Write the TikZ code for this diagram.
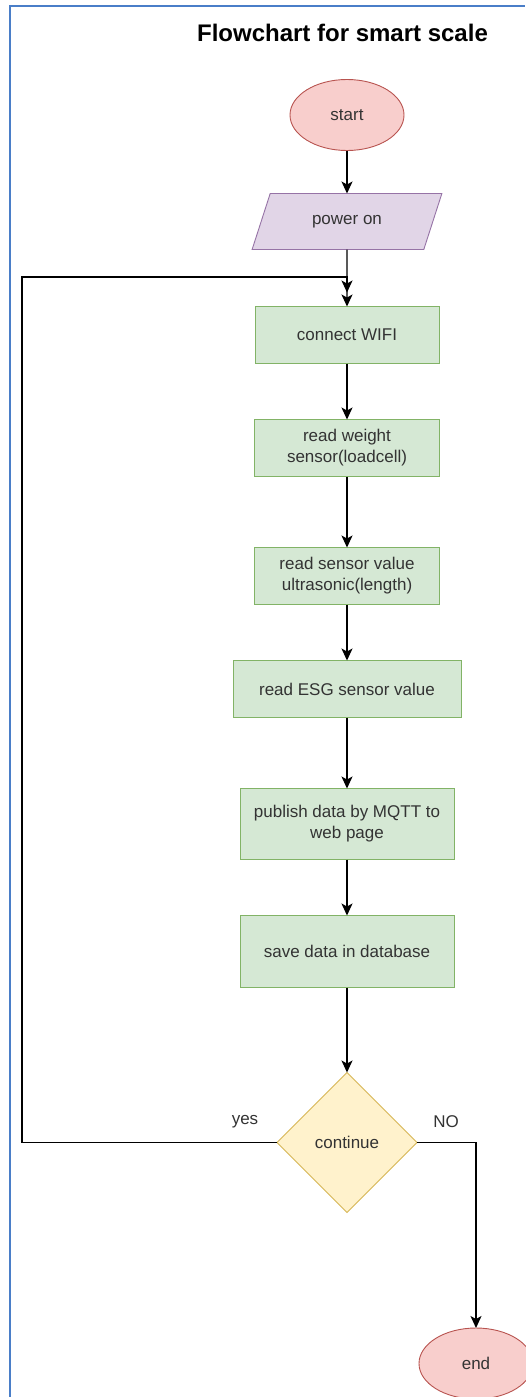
\documentclass[tikz,border=0pt]{standalone}
\usepackage{fontspec}
\setmainfont{Liberation Sans}
\usetikzlibrary{positioning}
\usetikzlibrary{shapes.geometric}
\usetikzlibrary{arrows.meta}
\definecolor{boxfill}{HTML}{D5E8D4}
\definecolor{boxline}{HTML}{82B366}
\definecolor{termfill}{HTML}{F8CECC}
\definecolor{termline}{HTML}{B85450}
\definecolor{iofill}{HTML}{E1D5E7}
\definecolor{ioline}{HTML}{9673A6}
\definecolor{askfill}{HTML}{FFF2CC}
\definecolor{askline}{HTML}{D6B656}
\definecolor{frameblue}{HTML}{4A7EC8}
\tikzset{
node distance = 56pt,
   box/.style = {%
    shape=rectangle,
    draw=boxline,
    fill=boxfill,
    line width=0.9pt,
    outer sep=0pt,
    minimum height=57pt,
    align=center,
    text=black!80,
    font=\fontsize{17}{21}\selectfont},
  term/.style = {%
    shape=ellipse,
    draw=termline,
    fill=termfill,
    line width=0.9pt,
    outer sep=0pt,
    minimum width=114pt,
    minimum height=71pt,
    text=black!80,
    font=\fontsize{17}{21}\selectfont},
    io/.style = {%
    trapezium,
    trapezium left angle=65,
    trapezium right angle=115,
    trapezium stretches=true,
    draw=ioline,
    fill=iofill,
    line width=0.9pt,
    outer sep=0pt,
    minimum width=191pt,
    minimum height=56pt,
    text=black!80,
    font=\fontsize{17}{21}\selectfont},
  decision/.style = {%
    diamond,
    aspect=1,
    draw=askline,
    fill=askfill,
    line width=0.9pt,
    outer sep=0pt,
    minimum width=140pt,
    minimum height=140pt,
    inner sep=0pt,
    text=black!80,
    font=\fontsize{17}{21}\selectfont},
   lbl/.style = {%
    text=black!80,
    font=\fontsize{17}{21}\selectfont},
 arrow/.style = {%
    draw=black,
    line width=1.3pt,% <-- connector width
    -{Stealth[length=12pt, width=11pt, inset=3pt]}},
    }

\begin{document}
\begin{tikzpicture}[x=1pt, y=-1pt]
    \useasboundingbox (0,0) rectangle (525,1397);
    \draw[draw=frameblue, line width=2pt] (10,1397) -- (10,6.5) -- (525,6.5);
    \node[font=\fontsize{24}{28}\selectfont\bfseries] (title) at (342.5,33) {Flowchart for smart scale};

    \node[term] (start) at (347,115) {start};
    \node[io, below=43pt of start] (power) {power on};
    \node[box, minimum width=184pt, below=57pt of power] (wifi) {connect WIFI};
    \node[box, minimum width=185pt, below=of wifi] (weight) {read weight\\sensor(loadcell)};
    \node[box, minimum width=185pt, below=71pt of weight] (ultra) {read sensor value\\ultrasonic(length)};
    \node[box, minimum width=228pt, below=of ultra] (esg) {read ESG sensor value};
    \node[box, minimum width=214pt, minimum height=71pt, below=71pt of esg] (mqtt) {publish data by MQTT to\\web page};
    \node[box, minimum width=214pt, minimum height=72pt, below=of mqtt] (save) {save data in database};
    \node[decision, below=85pt of save] (cont) {continue};
    \node[term] (stop) at (476,1363.5) {end};

    \node[lbl] (yes) at ([xshift=-32pt, yshift=21pt]cont.west) {yes};
    \node[lbl] (no) at ([xshift=29pt, yshift=21pt]cont.east) {NO};

    \coordinate (merge) at ([yshift=14pt]wifi.north);
    \coordinate (back) at (22,277);

    \draw[arrow] (start) -- (power);
    \draw[arrow] (power) -- (wifi);
    \draw[arrow] (wifi) -- (weight);
    \draw[arrow] (weight) -- (ultra);
    \draw[arrow] (ultra) -- (esg);
    \draw[arrow] (esg) -- (mqtt);
    \draw[arrow] (mqtt) -- (save);
    \draw[arrow] (save) -- (cont);
    \draw[arrow] (cont.west) -| (back) -| (merge);
    \draw[arrow] (cont.east) -| (stop.north);
\end{tikzpicture}
\end{document}
